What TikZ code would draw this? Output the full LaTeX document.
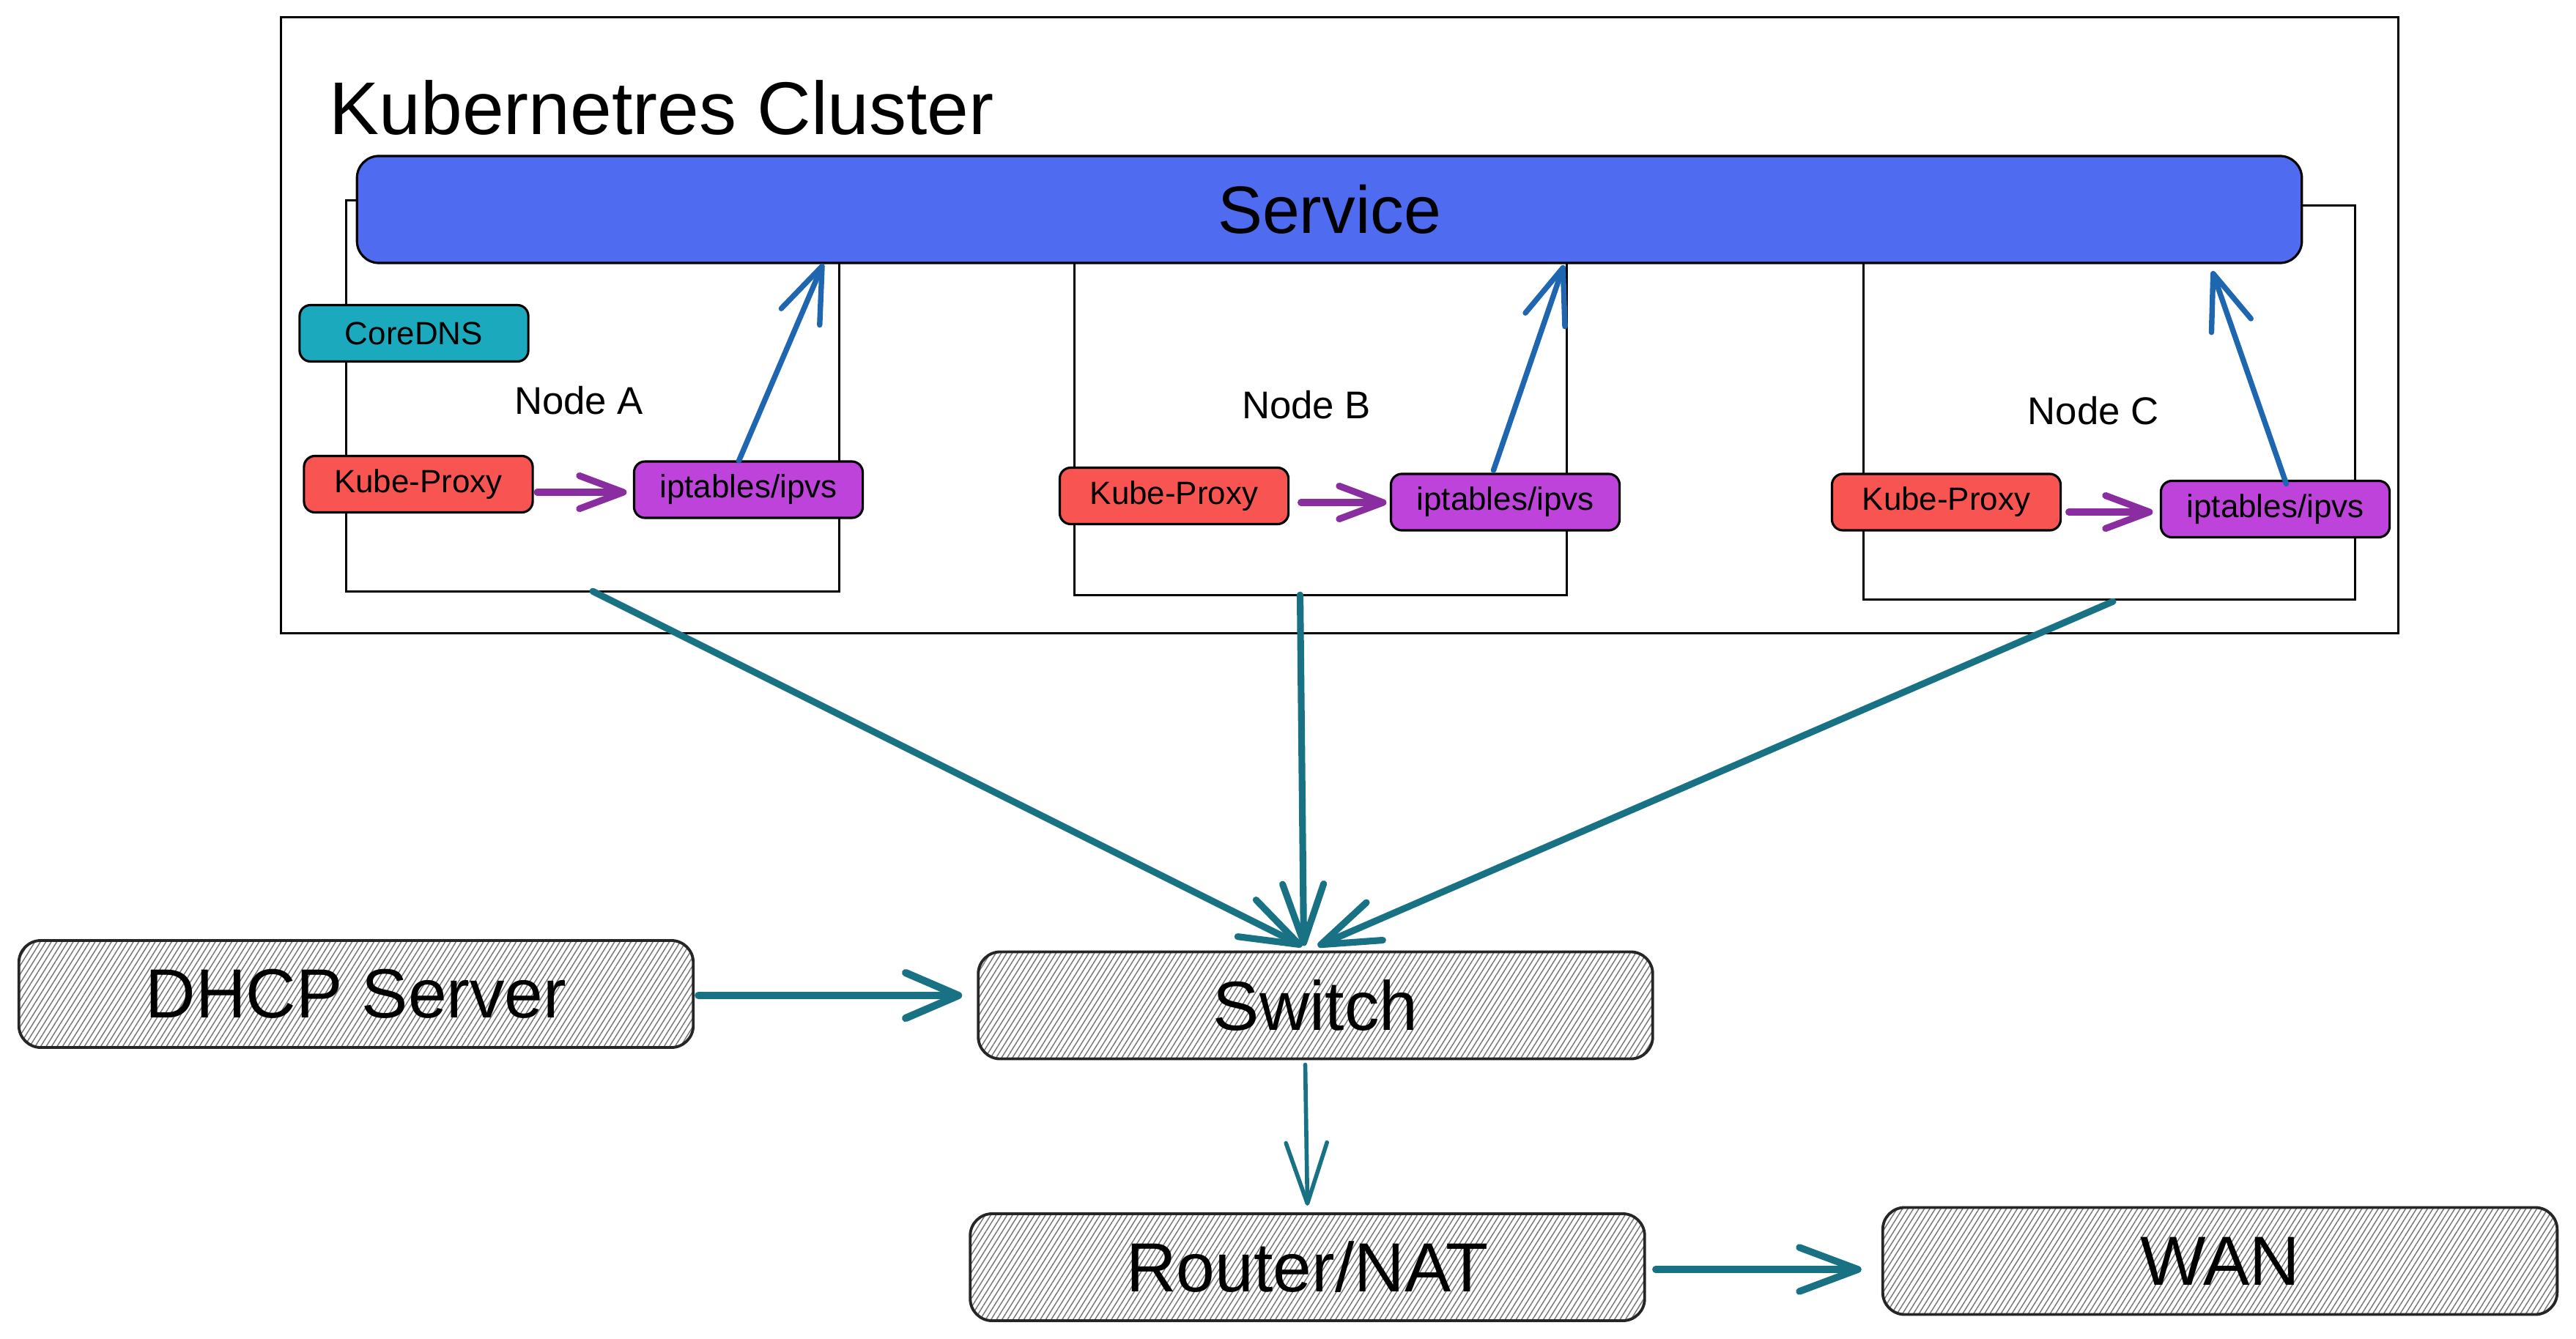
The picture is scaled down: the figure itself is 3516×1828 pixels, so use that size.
\documentclass[tikz,border=0pt]{standalone}
\usepackage{fontspec}
\setmainfont{Liberation Sans}
\usetikzlibrary{arrows.meta,patterns.meta,calc}
\definecolor{svcblue}{HTML}{4F6BF0}
\definecolor{dnsteal}{HTML}{1BA9BE}
\definecolor{kpred}{HTML}{F85552}
\definecolor{ippurple}{HTML}{BE43DA}
\definecolor{arrblue}{HTML}{1F66B0}
\definecolor{arrpurple}{HTML}{8A2DA0}
\definecolor{arrteal}{HTML}{187284}
\newcommand\myfs[1]{\fontsize{#1}{#1}\selectfont}
\begin{document}
\begin{tikzpicture}[x=0.01cm,y=-0.01cm,
  plainbox/.style={draw=black,line width=0.8pt,inner sep=0pt,outer sep=0pt},
  svcbox/.style={draw=black,line width=0.9pt,fill=svcblue,rounded corners=0.3cm,inner sep=0pt,outer sep=0pt,font=\myfs{26}},
  smallbox/.style={draw=black,line width=0.9pt,rounded corners=0.15cm,inner sep=0pt,outer sep=0pt,minimum width=3.12cm,minimum height=0.77cm,font=\myfs{12.5}},
  hatchbox/.style={draw=black!85,line width=1.1pt,rounded corners=0.3cm,inner sep=0pt,outer sep=0pt,minimum width=9.2cm,minimum height=1.46cm,font=\myfs{27},
    preaction={fill=white},
    pattern={Lines[angle=58,distance=1.8pt,line width=0.4pt]},pattern color=black!55},
  nodelabel/.style={anchor=base,font=\myfs{15}},
  tealarr/.style={draw=arrteal,line width=2.6pt,line cap=round,-{Straight Barb[length=0.8cm,width=0.56cm,round]}},
  bluearr/.style={draw=arrblue,line width=2.1pt,line cap=round,-{Straight Barb[length=0.75cm,width=0.57cm,round]}},
  purplearr/.style={draw=arrpurple,line width=2.6pt,line cap=round,-{Straight Barb[length=0.6cm,width=0.45cm,round]}}
]
\useasboundingbox (0,0) rectangle (3516,1828);

% cluster frame and node frames
\node[plainbox,minimum width=28.89cm,minimum height=8.40cm] (cluster) at (1828.5,444) {};
\node[anchor=base west,font=\myfs{29},inner sep=0pt] (title) at (449,184) {Kubernetres Cluster};
\node[plainbox,minimum width=6.72cm,minimum height=5.33cm] (nodeA) at (809,540.5) {};
\node[plainbox,minimum width=6.71cm,minimum height=5.32cm] (nodeB) at (1802.5,546) {};
\node[plainbox,minimum width=6.70cm,minimum height=5.37cm] (nodeC) at (2879,549.5) {};

% service
\node[svcbox,minimum width=26.53cm,minimum height=1.46cm] (service) at (1814.5,286) {Service};

% inner boxes
\node[smallbox,fill=dnsteal] (dns) at (565,455) {CoreDNS};
\node[nodelabel] (labA) at (790,566) {Node A};
\node[nodelabel] (labB) at (1783,571) {Node B};
\node[nodelabel] (labC) at (2857,580) {Node C};
\node[smallbox,fill=kpred] (kpA) at (571,661) {Kube-Proxy};
\node[smallbox,fill=ippurple] (ipA) at (1021.5,668.5) {iptables/ipvs};
\node[smallbox,fill=kpred] (kpB) at (1602.5,677) {Kube-Proxy};
\node[smallbox,fill=ippurple] (ipB) at (2054.5,685.5) {iptables/ipvs};
\node[smallbox,fill=kpred] (kpC) at (2656.5,685.5) {Kube-Proxy};
\node[smallbox,fill=ippurple] (ipC) at (3105.5,695) {iptables/ipvs};

% network boxes
\node[hatchbox] (dhcp) at (486,1357) {DHCP Server};
\node[hatchbox] (switch) at (1795.5,1372.5) {Switch};
\node[hatchbox] (router) at (1784.5,1730) {Router/NAT};
\node[hatchbox] (wan) at (3030,1721.5) {WAN};

% purple arrows
\draw[purplearr] ($(kpA.east)+(6,11)$) -- ($(ipA.west)+(-10,3.5)$);
\draw[purplearr] ($(kpB.east)+(17,9)$) -- ($(ipB.west)+(-6,0.5)$);
\draw[purplearr] ($(kpC.east)+(11,13.5)$) -- ($(ipC.west)+(-11,4)$);

% blue arrows
\draw[bluearr] ($(ipA.north)+(-13,-1)$) -- ($(service.south)+(-691,1)$);
\draw[bluearr] ($(ipB.north)+(-16,-5)$) -- ($(service.south)+(320,3)$);
\draw[bluearr] ($(ipC.north)+(15,4)$) -- ($(service.south)+(1205,11)$);

% teal arrows to switch
\draw[tealarr] (nodeA.south) -- ($(switch.north)+(-18,-8)$);
\draw[tealarr] ($(nodeB.south)+(-28,0)$) -- ($(switch.north)+(-16,-8)$);
\draw[tealarr] ($(nodeC.south)+(5,3)$) -- ($(switch.north)+(3,-8)$);

% lower arrows
\draw[tealarr,line width=2.9pt,-{Straight Barb[length=0.72cm,width=0.62cm,round]}]
  ($(dhcp.east)+(7,2)$) -- ($(switch.west |- dhcp.east)+(-22,2)$);
\draw[tealarr,line width=1.6pt,-{Straight Barb[length=0.83cm,width=0.56cm,round]}]
  ($(switch.south)+(-14,8)$) -- ($(router.north)+(0,-11)$);
\draw[tealarr,line width=2.7pt,-{Straight Barb[length=0.8cm,width=0.6cm,round]}]
  ($(router.east)+(15,3)$) -- ($(wan.west |- router.east)+(-29,3)$);
\end{tikzpicture}
\end{document}
